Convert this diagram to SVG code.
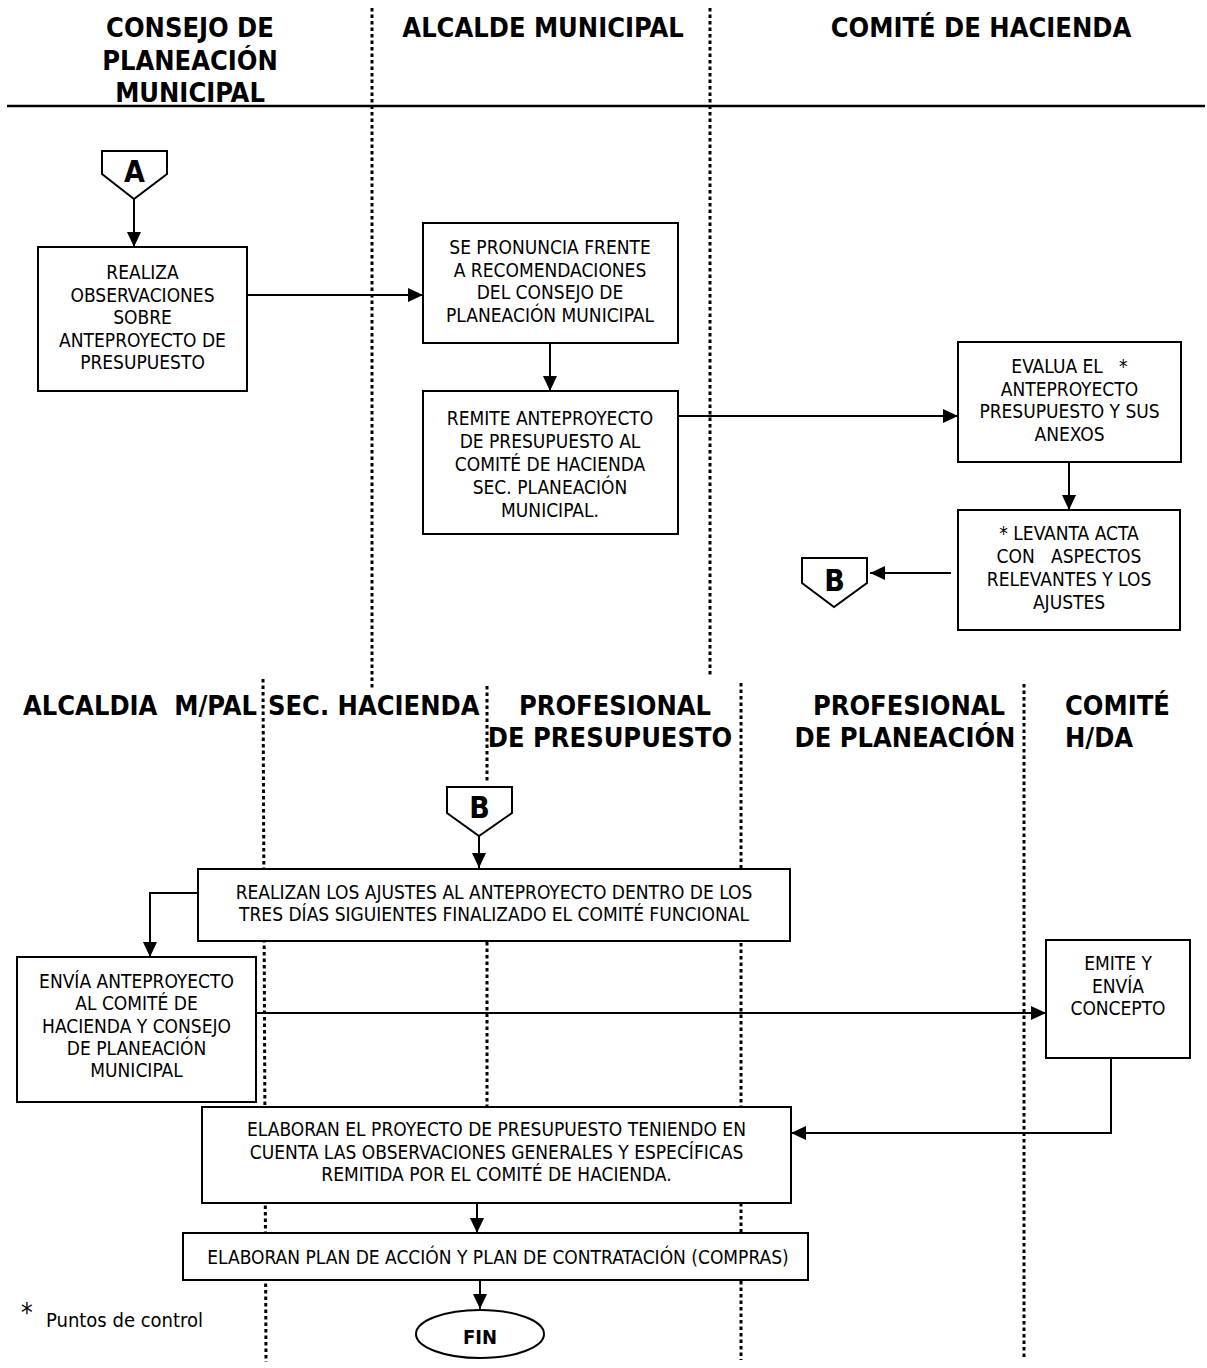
<svg xmlns="http://www.w3.org/2000/svg" width="1207" height="1368" viewBox="0 0 1207 1368">
  <defs>
    <marker id="arrow" viewBox="0 0 15 14" markerWidth="15" markerHeight="14" refX="15" refY="7" orient="auto" markerUnits="userSpaceOnUse">
      <path d="M0,0 L15,7 L0,14 Z" fill="#000"/>
    </marker>
    <style>
      .box { fill: #fff; stroke: #000; stroke-width: 2; }
      .conn { fill: none; stroke: #000; stroke-width: 2; }
      .arr { marker-end: url(#arrow); }
      .lane { stroke: #000; stroke-width: 3; stroke-dasharray: 3.5 3; fill: none; }
      .rule { stroke: #000; stroke-width: 2.5; }
      text { font-family: "DejaVu Sans Condensed", "DejaVu Sans", sans-serif; font-stretch: condensed; fill: #000; }
      .t { font-size: 19px; text-anchor: middle; }
      .h { font-size: 27px; font-weight: bold; text-anchor: middle; }
      .hs { font-size: 27px; font-weight: bold; }
      .lbl { font-size: 30px; font-weight: bold; text-anchor: middle; }
      .fin { font-size: 20px; font-weight: bold; text-anchor: middle; }
    </style>
  </defs>

  <!-- swimlane separators -->
  <g id="lanes">
    <line class="lane" x1="372" y1="8" x2="372" y2="690"/>
    <line class="lane" x1="710" y1="8" x2="710" y2="676"/>
    <line class="lane" x1="263" y1="679" x2="266" y2="1362"/>
    <line class="lane" x1="487" y1="686" x2="487" y2="782"/>
    <line class="lane" x1="487" y1="942" x2="487" y2="1106"/>
    <line class="lane" x1="741" y1="683" x2="741" y2="1360"/>
    <line class="lane" x1="1024" y1="684" x2="1024" y2="1360"/>
    <line class="rule" x1="7" y1="106" x2="1205" y2="106"/>
  </g>

  <!-- lane titles -->
  <g id="headers">
    <text class="h" x="190" y="37">CONSEJO DE</text>
    <text class="h" x="190" y="70">PLANEACIÓN</text>
    <text class="h" x="190" y="102">MUNICIPAL</text>
    <text class="h" x="543" y="37">ALCALDE MUNICIPAL</text>
    <text class="h" x="981" y="37">COMITÉ DE HACIENDA</text>

    <text class="hs" x="23" y="715" xml:space="preserve">ALCALDIA  M/PAL</text>
    <text class="hs" x="268" y="715">SEC. HACIENDA</text>
    <text class="h" x="615" y="715">PROFESIONAL</text>
    <text class="h" x="610" y="747">DE PRESUPUESTO</text>
    <text class="h" x="909" y="715">PROFESIONAL</text>
    <text class="h" x="905" y="747">DE PLANEACIÓN</text>
    <text class="hs" x="1065" y="715">COMITÉ</text>
    <text class="hs" x="1065" y="747">H/DA</text>
  </g>

  <!-- connectors -->
  <g id="connectors">
    <line class="conn arr" x1="134" y1="199" x2="134" y2="247"/>
    <line class="conn arr" x1="247" y1="295" x2="423" y2="295"/>
    <line class="conn arr" x1="550" y1="343" x2="550" y2="391"/>
    <line class="conn arr" x1="678" y1="416" x2="958" y2="416"/>
    <line class="conn arr" x1="1069" y1="462" x2="1069" y2="510"/>
    <line class="conn arr" x1="951" y1="573" x2="870" y2="573"/>
    <line class="conn arr" x1="479" y1="836" x2="479" y2="868"/>
    <polyline class="conn arr" points="198,893 150,893 150,957"/>
    <line class="conn arr" x1="256" y1="1013" x2="1046" y2="1013"/>
    <polyline class="conn arr" points="1111,1058 1111,1133 791,1133"/>
    <line class="conn arr" x1="477" y1="1203" x2="477" y2="1233"/>
    <line class="conn arr" x1="480" y1="1280" x2="480" y2="1309"/>
  </g>

  <!-- off-page connector A -->
  <g id="connA">
    <polygon class="box" points="102,151 167,151 167,174 134,199 102,174"/>
    <text class="lbl" x="134.5" y="182">A</text>
  </g>

  <g id="n1">
    <rect class="box" x="38" y="247" width="209" height="144"/>
    <text class="t" x="142.5" y="279">REALIZA</text>
    <text class="t" x="142.5" y="301.5">OBSERVACIONES</text>
    <text class="t" x="142.5" y="324">SOBRE</text>
    <text class="t" x="142.5" y="346.5">ANTEPROYECTO DE</text>
    <text class="t" x="142.5" y="369">PRESUPUESTO</text>
  </g>

  <g id="n2">
    <rect class="box" x="423" y="223" width="255" height="120"/>
    <text class="t" x="550" y="254">SE PRONUNCIA FRENTE</text>
    <text class="t" x="550" y="276.5">A RECOMENDACIONES</text>
    <text class="t" x="550" y="299">DEL CONSEJO DE</text>
    <text class="t" x="550" y="321.5">PLANEACIÓN MUNICIPAL</text>
  </g>

  <g id="n3">
    <rect class="box" x="423" y="391" width="255" height="143"/>
    <text class="t" x="550" y="425">REMITE ANTEPROYECTO</text>
    <text class="t" x="550" y="448">DE PRESUPUESTO AL</text>
    <text class="t" x="550" y="471">COMITÉ DE HACIENDA</text>
    <text class="t" x="550" y="494">SEC. PLANEACIÓN</text>
    <text class="t" x="550" y="517">MUNICIPAL.</text>
  </g>

  <g id="n4">
    <rect class="box" x="958" y="342" width="223" height="120"/>
    <text class="t" x="1069.5" y="373" xml:space="preserve">EVALUA EL   *</text>
    <text class="t" x="1069.5" y="395.5">ANTEPROYECTO</text>
    <text class="t" x="1069.5" y="418">PRESUPUESTO Y SUS</text>
    <text class="t" x="1069.5" y="440.5">ANEXOS</text>
  </g>

  <g id="n5">
    <rect class="box" x="958" y="510" width="222" height="120"/>
    <text class="t" x="1069" y="540">* LEVANTA ACTA</text>
    <text class="t" x="1069" y="563" xml:space="preserve">CON   ASPECTOS</text>
    <text class="t" x="1069" y="586">RELEVANTES Y LOS</text>
    <text class="t" x="1069" y="609">AJUSTES</text>
  </g>

  <!-- off-page connector B (exit) -->
  <g id="connB1">
    <polygon class="box" points="802,558 867,558 867,583 834,607 802,583"/>
    <text class="lbl" x="834.5" y="591">B</text>
  </g>

  <!-- off-page connector B (entry) -->
  <g id="connB2">
    <polygon class="box" points="447,787 512,787 512,813 479,836 447,813"/>
    <text class="lbl" x="479.5" y="818">B</text>
  </g>

  <g id="n6">
    <rect class="box" x="198" y="869" width="592" height="72"/>
    <text class="t" x="494" y="899">REALIZAN LOS AJUSTES AL ANTEPROYECTO DENTRO DE LOS</text>
    <text class="t" x="494" y="921">TRES DÍAS SIGUIENTES FINALIZADO EL COMITÉ FUNCIONAL</text>
  </g>

  <g id="n7">
    <rect class="box" x="17" y="957" width="239" height="145"/>
    <text class="t" x="136.5" y="988">ENVÍA ANTEPROYECTO</text>
    <text class="t" x="136.5" y="1010">AL COMITÉ DE</text>
    <text class="t" x="136.5" y="1032.5">HACIENDA Y CONSEJO</text>
    <text class="t" x="136.5" y="1055">DE PLANEACIÓN</text>
    <text class="t" x="136.5" y="1077">MUNICIPAL</text>
  </g>

  <g id="n8">
    <rect class="box" x="1046" y="940" width="144" height="118"/>
    <text class="t" x="1118" y="970">EMITE Y</text>
    <text class="t" x="1118" y="992.5">ENVÍA</text>
    <text class="t" x="1118" y="1015">CONCEPTO</text>
  </g>

  <g id="n9">
    <rect class="box" x="202" y="1107" width="589" height="96"/>
    <text class="t" x="496.5" y="1136">ELABORAN EL PROYECTO DE PRESUPUESTO TENIENDO EN</text>
    <text class="t" x="496.5" y="1159">CUENTA LAS OBSERVACIONES GENERALES Y ESPECÍFICAS</text>
    <text class="t" x="496.5" y="1181">REMITIDA POR EL COMITÉ DE HACIENDA.</text>
  </g>

  <g id="n10">
    <rect class="box" x="183" y="1233" width="625" height="47"/>
    <text class="t" x="498" y="1264">ELABORAN PLAN DE ACCIÓN Y PLAN DE CONTRATACIÓN (COMPRAS)</text>
  </g>

  <g id="end">
    <ellipse class="box" cx="480" cy="1334" rx="64" ry="24"/>
    <text class="fin" x="480" y="1344">FIN</text>
  </g>

  <!-- legend -->
  <g id="legend">
    <text x="21" y="1322" style="font-size:26px">*</text>
    <text x="46" y="1327" style="font-size:20px">Puntos de control</text>
  </g>
</svg>
